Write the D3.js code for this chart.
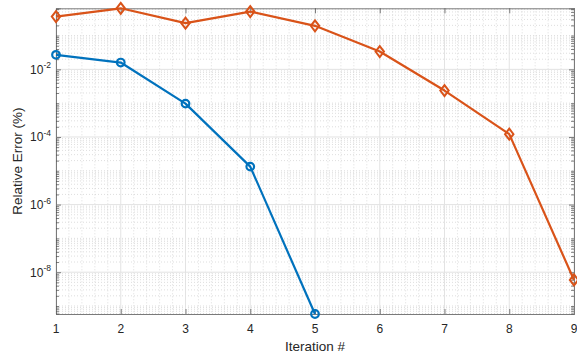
<!DOCTYPE html>
<html>
<head>
<meta charset="utf-8">
<script src="https://cdn.jsdelivr.net/npm/d3@7"></script>
<style>
  body { margin: 0; background: #fff; }
  svg { display: block; font-family: "Liberation Sans", Arial, Helvetica, sans-serif; }
</style>
</head>
<body>
<svg id="chart" width="577" height="356"></svg>
<script>
// Iteration numbers on the x axis
const iterations = [1, 2, 3, 4, 5, 6, 7, 8, 9];
// Relative error (%) per iteration for the two methods
const errorsFast = [0.0269, 0.0159, 9.7e-4, 1.33e-5, 5.8e-10];
const errorsSlow = [0.365, 0.64, 0.233, 0.513, 0.194, 0.0337, 2.36e-3, 1.21e-4, 5.9e-9];
// Labelled y ticks (exponents of ten)
const yTickExponents = [-8, -6, -4, -2];

const W = 577, H = 356;
const margin = { left: 56, top: 8.3, right: 3, bottom: 42 };
const svg = d3.select("#chart");
const iw = W - margin.left - margin.right;
const ih = H - margin.top - margin.bottom;

const allVals = errorsFast.concat(errorsSlow);
const x = d3.scaleLinear().domain([1, 9]).range([0, iw]);
const y = d3.scaleLog().domain([d3.min(allVals), d3.max(allVals)]).range([ih, 0]);

const g = svg.append("g").attr("transform", `translate(${margin.left},${margin.top})`);

const axisColor = "#262626";
const [y0, y1] = y.domain();
const lo = Math.floor(Math.log10(y0)), hi = Math.ceil(Math.log10(y1));

// minor y values: 1..9 x 10^n that are not labelled major ticks
const minorY = [];
for (let e = lo; e <= hi; e++) {
  for (let m = 1; m <= 9; m++) {
    const v = m * Math.pow(10, e);
    if (v < y0 || v > y1) continue;
    if (m === 1 && yTickExponents.includes(e)) continue;
    minorY.push(v);
  }
}
const majorY = yTickExponents.map(e => Math.pow(10, e));
const minorX = d3.range(1, 9.001, 0.2).filter(v => Math.abs(v - Math.round(v)) > 1e-6);

// grid
const grid = g.append("g");
grid.selectAll(".mxg").data(minorX).join("line")
  .attr("x1", d => x(d)).attr("x2", d => x(d)).attr("y1", 0).attr("y2", ih)
  .attr("stroke", "#c8c8c8").attr("stroke-width", 0.6).attr("stroke-dasharray", "1,2");
grid.selectAll(".myg").data(minorY).join("line")
  .attr("x1", 0).attr("x2", iw).attr("y1", d => y(d)).attr("y2", d => y(d))
  .attr("stroke", "#c8c8c8").attr("stroke-width", 0.6).attr("stroke-dasharray", "1,2");
grid.selectAll(".Mxg").data(iterations).join("line")
  .attr("x1", d => x(d)).attr("x2", d => x(d)).attr("y1", 0).attr("y2", ih)
  .attr("stroke", "#e3e3e3").attr("stroke-width", 1);
grid.selectAll(".Myg").data(majorY).join("line")
  .attr("x1", 0).attr("x2", iw).attr("y1", d => y(d)).attr("y2", d => y(d))
  .attr("stroke", "#e3e3e3").attr("stroke-width", 1);

// axes: ticks pointing inward, box on all four sides
const tickFmt = () => "";
g.append("g").attr("transform", `translate(0,${ih})`)
  .call(d3.axisBottom(x).tickValues(iterations).tickSize(-5).tickFormat(tickFmt));
g.append("g")
  .call(d3.axisTop(x).tickValues(iterations).tickSize(-5).tickFormat(tickFmt));
g.append("g")
  .call(d3.axisLeft(y).tickValues(majorY).tickSize(-5).tickFormat(tickFmt));
g.append("g").attr("transform", `translate(${iw},0)`)
  .call(d3.axisRight(y).tickValues(majorY).tickSize(-5).tickFormat(tickFmt));
g.append("g")
  .call(d3.axisLeft(y).tickValues(minorY).tickSize(-3).tickFormat(tickFmt));
g.append("g").attr("transform", `translate(${iw},0)`)
  .call(d3.axisRight(y).tickValues(minorY).tickSize(-3).tickFormat(tickFmt));
g.selectAll(".domain").attr("stroke", "#7a7a7a").attr("stroke-width", 1);
g.selectAll(".tick line").attr("stroke", "#4a4a4a").attr("stroke-width", 0.7);

// tick labels
g.selectAll(".xl").data(iterations).join("text")
  .attr("x", d => x(d)).attr("y", ih + 18.7)
  .attr("text-anchor", "middle").attr("font-size", 12).attr("fill", axisColor)
  .text(d => d);
const yl = g.selectAll(".yl").data(yTickExponents).join("text")
  .attr("x", -5).attr("y", d => y(Math.pow(10, d)) + 4.5)
  .attr("text-anchor", "end").attr("font-size", 12).attr("fill", axisColor);
yl.append("tspan").text("10");
yl.append("tspan").attr("dy", -5.5).attr("font-size", 8.5).text(d => d < 0 ? "-" + Math.abs(d) : d);

// axis titles
g.append("text").attr("x", iw / 2).attr("y", ih + 37)
  .attr("text-anchor", "middle").attr("font-size", 13.5).attr("fill", axisColor)
  .text("Iteration #");
g.append("text").attr("transform", `translate(-34,${ih / 2}) rotate(-90)`)
  .attr("text-anchor", "middle").attr("font-size", 13.5).attr("fill", axisColor)
  .text("Relative Error (%)");

// series
const line = d3.line().x(d => x(d[0])).y(d => y(d[1]));
const blue = "#0072BD", orange = "#D95319";
const slowPts = iterations.map((it, i) => [it, errorsSlow[i]]);
const fastPts = iterations.slice(0, errorsFast.length).map((it, i) => [it, errorsFast[i]]);

g.append("path").datum(fastPts).attr("d", line)
  .attr("fill", "none").attr("stroke", blue).attr("stroke-width", 2.2).attr("stroke-linejoin", "round");
g.selectAll(".mf").data(fastPts).join("circle")
  .attr("cx", d => x(d[0])).attr("cy", d => y(d[1])).attr("r", 3.8)
  .attr("fill", "none").attr("stroke", blue).attr("stroke-width", 2.2);

g.append("path").datum(slowPts).attr("d", line)
  .attr("fill", "none").attr("stroke", orange).attr("stroke-width", 2.2).attr("stroke-linejoin", "round");
g.selectAll(".ms").data(slowPts).join("path")
  .attr("transform", d => `translate(${x(d[0])},${y(d[1])})`)
  .attr("d", "M0,-5.5L4.2,0L0,5.5L-4.2,0Z")
  .attr("fill", "none").attr("stroke", orange).attr("stroke-width", 2);
</script>
</body>
</html>
